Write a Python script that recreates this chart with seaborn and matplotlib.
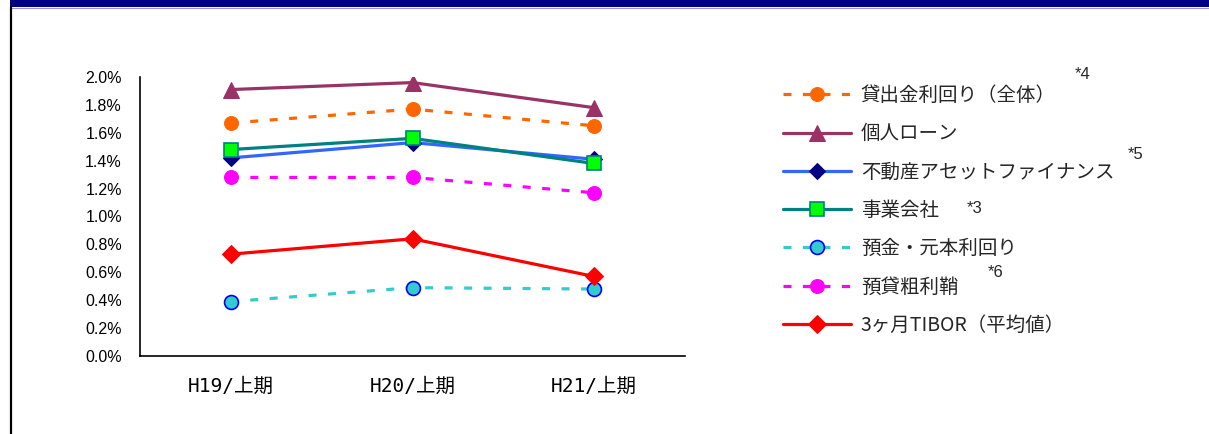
import matplotlib
matplotlib.use("Agg")
import matplotlib.pyplot as plt
from matplotlib.patches import Rectangle
from matplotlib.lines import Line2D
import seaborn as sns
import pandas as pd

# Periods on the category axis
periods = ["H19/上期", "H20/上期", "H21/上期"]

# Yields / spreads (%)
loan_yield_total = [1.67, 1.77, 1.65]
personal_loan = [1.91, 1.96, 1.78]
real_estate_finance = [1.42, 1.53, 1.41]
corporate = [1.48, 1.56, 1.38]
deposit_yield = [0.39, 0.49, 0.48]
gross_spread = [1.28, 1.28, 1.17]
tibor_3m = [0.73, 0.84, 0.57]

series_names = [
    "貸出金利回り（全体）",
    "個人ローン",
    "不動産アセットファイナンス",
    "事業会社",
    "預金・元本利回り",
    "預貸粗利鞘",
    "3ヶ月TIBOR（平均値）",
]
series_values = [
    loan_yield_total,
    personal_loan,
    real_estate_finance,
    corporate,
    deposit_yield,
    gross_spread,
    tibor_3m,
]
y_ticks = [0.0, 0.2, 0.4, 0.6, 0.8, 1.0, 1.2, 1.4, 1.6, 1.8, 2.0]

# Footnote markers attached to legend entries: (entry index, text)
footnotes = [(0, "*4"), (2, "*5"), (3, "*3"), (5, "*6")]

dash = (0, (2.5, 3.6))
styles = [
    dict(color="#FF6600", linestyle=dash, marker="o", markersize=10,
         markerfacecolor="#FF6600", markeredgecolor="#FF6600"),
    dict(color="#993366", linestyle="-", marker="^", markersize=11,
         markerfacecolor="#993366", markeredgecolor="#993366"),
    dict(color="#3366FF", linestyle="-", marker="D", markersize=8.5,
         markerfacecolor="#000080", markeredgecolor="#000080"),
    dict(color="#008080", linestyle="-", marker="s", markersize=9.5,
         markerfacecolor="#00FF00", markeredgecolor="#008080", markeredgewidth=1.2),
    dict(color="#33CCCC", linestyle=dash, marker="o", markersize=10,
         markerfacecolor="#33CCCC", markeredgecolor="#0000FF", markeredgewidth=1.2),
    dict(color="#FF00FF", linestyle=dash, marker="o", markersize=10,
         markerfacecolor="#FF00FF", markeredgecolor="#FF00FF"),
    dict(color="#FF0000", linestyle="-", marker="D", markersize=9.5,
         markerfacecolor="#FF0000", markeredgecolor="#FF0000"),
]

sns.set_theme(style="white")
plt.rcParams["font.family"] = ["Noto Sans CJK JP", "DejaVu Sans"]

W, H = 1209, 434
fig = plt.figure(figsize=(W / 100, H / 100), dpi=100)
fig.patch.set_facecolor("white")

# Header band and left border
fig.patches.append(Rectangle((10 / W, 1 - 7 / H), 1 - 10 / W, 7 / H,
                             transform=fig.transFigure, facecolor="#000080",
                             edgecolor="none", zorder=0))
fig.lines.append(Line2D([10 / W, 1], [1 - 7.5 / H, 1 - 7.5 / H],
                        transform=fig.transFigure, color="#9999CC", lw=0.8))
fig.lines.append(Line2D([11 / W, 11 / W], [0, 1 - 7 / H],
                        transform=fig.transFigure, color="black", lw=1.6))

ax = fig.add_axes([140 / W, 78 / H, 545 / W, 279 / H])

for name, vals, st in zip(series_names, series_values, styles):
    df = pd.DataFrame({"period": periods, "value": vals})
    sns.lineplot(data=df, x="period", y="value", ax=ax, label=name,
                 linewidth=2.3, errorbar=None, sort=False, **st)

ax.set_xlim(-0.5, 2.5)
ax.set_ylim(0, 2.0)
ax.set_yticks(y_ticks)
ax.set_yticklabels([f"{v:.1f}%" for v in y_ticks])
ax.set_xlabel("")
ax.set_ylabel("")
ax.tick_params(axis="y", length=0, pad=13, labelsize=11.5, colors="black")
ax.tick_params(axis="x", length=0, pad=15, labelsize=14, colors="black")
for lbl in ax.get_yticklabels():
    lbl.set_family(["Liberation Sans", "DejaVu Sans"])
for lbl in ax.get_xticklabels():
    lbl.set_family(["DejaVu Sans Mono", "Noto Sans CJK JP"])
for s in ["top", "right"]:
    ax.spines[s].set_visible(False)
for s in ["left", "bottom"]:
    ax.spines[s].set_color("black")
    ax.spines[s].set_linewidth(1.2)
ax.grid(False)

handles, labels = ax.get_legend_handles_labels()
leg = ax.legend(handles, labels, loc="upper left",
                bbox_to_anchor=(783 / W, 1 - 85 / H), bbox_transform=fig.transFigure,
                frameon=False, fontsize=14, handlelength=3.5, handletextpad=0.5,
                labelspacing=0.89, borderaxespad=0, borderpad=0)

# Footnote markers: fixed x, raised relative to their legend label
fig.canvas.draw()
renderer = fig.canvas.get_renderer()
inv = fig.transFigure.inverted()
note_pos = {0: (1075, 21), 2: (1128, 18), 3: (967, 2), 5: (988, 15)}
for idx, txt in footnotes:
    bb = leg.get_texts()[idx].get_window_extent(renderer)
    px, dy = note_pos[idx]
    cy = (bb.y0 + bb.y1) / 2
    fy = inv.transform((0, cy + dy))[1]
    fig.text(px / W, fy, txt, fontsize=12, ha="left", va="center",
             family=["Liberation Sans", "DejaVu Sans"])

fig.savefig("out.png", dpi=100)
